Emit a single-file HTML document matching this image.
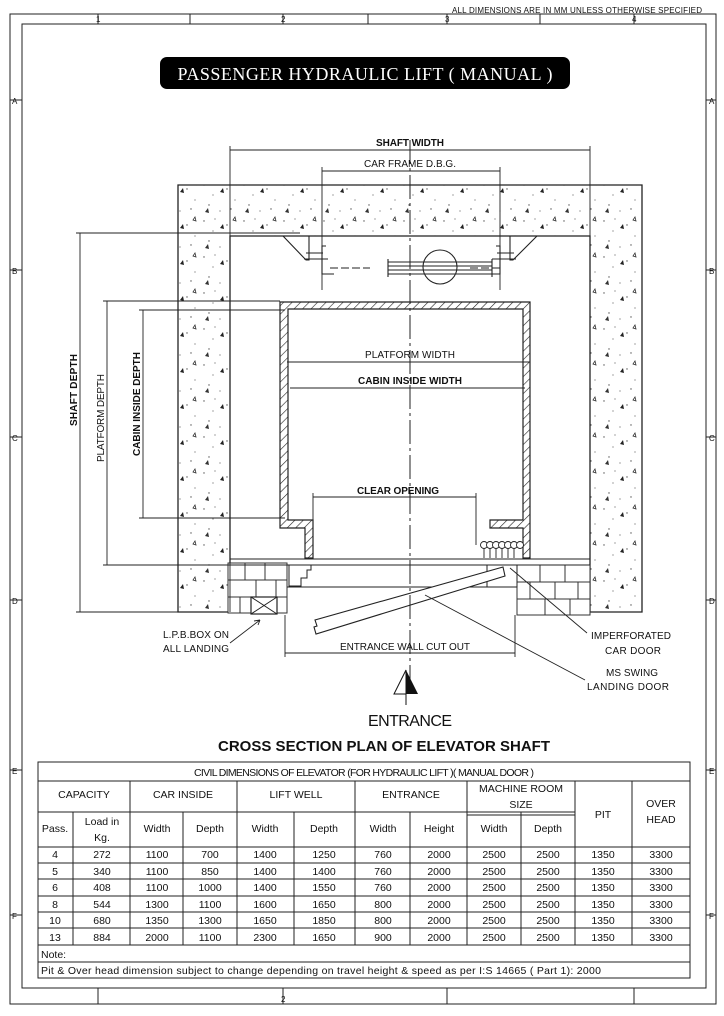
<!DOCTYPE html>
<html><head><meta charset="utf-8"><style>
html,body{margin:0;padding:0;background:#fff;}
svg{display:block;}
text{font-family:"Liberation Sans",sans-serif;fill:#111;}
</style></head><body>
<svg width="724" height="1016" viewBox="0 0 724 1016" xmlns="http://www.w3.org/2000/svg">
<defs>
<pattern id="conc" width="40" height="36" patternUnits="userSpaceOnUse">
<rect width="40" height="36" fill="#fff"/>
<circle cx="4" cy="5" r="0.7" fill="#555"/><circle cx="15" cy="3" r="0.6" fill="#666"/>
<circle cx="27" cy="9" r="0.7" fill="#555"/><circle cx="35" cy="20" r="0.6" fill="#666"/>
<circle cx="9" cy="25" r="0.7" fill="#555"/><circle cx="20" cy="31" r="0.6" fill="#666"/>
<circle cx="31" cy="29" r="0.7" fill="#555"/><circle cx="13" cy="15" r="0.6" fill="#666"/>
<path d="M20 12 l3 -4 l1 5z" fill="#222"/><path d="M5 32 l3 -4 l1 5z" fill="#333"/>
<path d="M33 4 l2 -3 l1 4z" fill="none" stroke="#333" stroke-width="0.8"/>
</pattern>
<pattern id="hatch" width="6" height="6" patternUnits="userSpaceOnUse" patternTransform="rotate(45)">
<rect width="6" height="6" fill="#fff"/><line x1="0" y1="0" x2="0" y2="6" stroke="#222" stroke-width="1.2"/>
</pattern>
</defs>
<g stroke="#222" fill="none" stroke-width="1">
<!-- borders -->
<rect x="10" y="14" width="706" height="990"/>
<rect x="22" y="24" width="684" height="964"/>
<path d="M98 14v10M190 14v10M283 14v10M368 14v10M447 14v10M540 14v10M634 14v10M98 988v16M283 988v16M447 988v16M634 988v16M10 100h12M10 270h12M10 437h12M10 600h12M10 770h12M10 915h12M706 100h10M706 270h10M706 437h10M706 600h10M706 770h10M706 915h10"/>
</g>
<g font-size="8">
<text x="96" y="22">1</text><text x="281" y="22">2</text><text x="445" y="22">3</text><text x="632" y="22">4</text>
<text x="12" y="104">A</text><text x="12" y="274">B</text><text x="12" y="441">C</text><text x="12" y="604">D</text><text x="12" y="774">E</text><text x="12" y="919">F</text>
<text x="709" y="104">A</text><text x="709" y="274">B</text><text x="709" y="441">C</text><text x="709" y="604">D</text><text x="709" y="774">E</text><text x="709" y="919">F</text>
<text x="281" y="1002">2</text>
</g>
<text x="452" y="13" font-size="8" textLength="250">ALL DIMENSIONS ARE IN  MM UNLESS OTHERWISE SPECIFIED</text>
<rect x="160" y="57" width="410" height="32" rx="7" fill="#000"/>
<text x="365" y="80" font-size="18" text-anchor="middle" style="font-family:'Liberation Serif',serif;fill:#fff" textLength="375">PASSENGER HYDRAULIC LIFT ( MANUAL )</text>

<!-- concrete walls -->
<path d="M178 185H642V612H590V236H230V612H178Z" fill="url(#conc)" stroke="#222" stroke-width="1.3"/>
<!-- bricks -->
<g stroke="#333" stroke-width="1" fill="#fff">
<rect x="228" y="563" width="59" height="50"/>
<path d="M228 580h59M228 597h59M245 563v17M265 563v17M256 580v17M276 580v17M240 597v16"/>
<rect x="517" y="565" width="73" height="50"/>
<path d="M517 582h73M517 599h73M540 565v17M565 565v17M530 582v17M555 582v17M578 582v17M545 599v16M570 599v16"/>
</g>
<rect x="251" y="597" width="26" height="17" fill="#fff" stroke="#222" stroke-width="1.2"/>
<path d="M251 597l26 17M277 597l-26 17" stroke="#222"/>

<!-- car walls hatched -->
<path d="M280 302H530V558H523V528H490V520H523V309H288V520H313V558H305V528H280Z" fill="url(#hatch)" stroke="#222" stroke-width="1.2"/>
<!-- car door panels -->
<g stroke="#222" fill="#fff" stroke-width="0.9">
<circle cx="484" cy="545" r="3.5"/><circle cx="490" cy="545" r="3.5"/><circle cx="496" cy="545" r="3.5"/><circle cx="502" cy="545" r="3.5"/><circle cx="508" cy="545" r="3.5"/><circle cx="514" cy="545" r="3.5"/><circle cx="520" cy="545" r="3.5"/>
<path d="M484 548v10M490 548v10M496 548v10M502 548v10M508 548v10M514 548v10"/>
</g>
<!-- sill -->
<path d="M230 559H590M230 565H590M287 587H515" stroke="#222" fill="none"/>
<path d="M289 565h22v5h-4v8h-6v8h-12z" fill="#fff" stroke="#222"/>
<path d="M487 565h30v22h-30z" fill="#fff" stroke="#222"/>
<!-- swing door -->
<path d="M503 567L315 620L317 626L314 627L316 634L505 576Z" fill="#fff" stroke="#222" stroke-width="1.1"/>

<!-- rail brackets top -->
<g stroke="#222" fill="none" stroke-width="1.1">
<path d="M283 236L306 260H309V236M537 236L513 260H510V236"/>
<path d="M326 246h-4v28h12M496 246h4v28h-12"/>
<path d="M306 253h17M514 253h-17"/>
<path d="M328 259h-24M492 259h24"/>
<circle cx="440" cy="267" r="17"/>
<path d="M388 262h104M388 266h104M388 270h104M388 274h104" stroke-width="1"/>
<path d="M388 259v18M492 259v18"/>
<path d="M330 268h40M470 268h30" stroke-dasharray="8 3"/>
</g>

<!-- center line -->
<path d="M410 140V690" stroke="#222" stroke-dasharray="24 4 3 4" fill="none"/>

<!-- dimension lines -->
<g stroke="#222" fill="none" stroke-width="0.9">
<path d="M230 150H590M230 146V612M590 146V236"/>
<path d="M322 171H500M322 167V290M500 167V290"/>
<path d="M287 362H530M290 388H525"/>
<path d="M313 497H476M313 493V520M476 493V545"/>
<path d="M285 653H515M285 615V657M515 615V657"/>
<path d="M80 233V612M76 233H300M107 301V565M103 301H280M143 310V518M139 310H285M139 518H285M103 565H230M76 612H178"/>
</g>
<g font-size="10">
<text x="410" y="146" text-anchor="middle" font-weight="bold" textLength="68">SHAFT WIDTH</text>
<text x="410" y="167" text-anchor="middle" textLength="92">CAR FRAME D.B.G.</text>
<text x="410" y="358" text-anchor="middle" textLength="90">PLATFORM WIDTH</text>
<text x="410" y="384" text-anchor="middle" font-weight="bold" textLength="104">CABIN INSIDE WIDTH</text>
<text x="398" y="494" text-anchor="middle" font-weight="bold" textLength="82">CLEAR OPENING</text>
<text x="405" y="650" text-anchor="middle" textLength="130">ENTRANCE WALL CUT OUT</text>
<text transform="translate(77,390) rotate(-90)" text-anchor="middle" font-weight="bold" textLength="72">SHAFT DEPTH</text>
<text transform="translate(104,418) rotate(-90)" text-anchor="middle" textLength="88">PLATFORM DEPTH</text>
<text transform="translate(140,404) rotate(-90)" text-anchor="middle" font-weight="bold" textLength="104">CABIN INSIDE DEPTH</text>
<text x="163" y="638" textLength="66">L.P.B.BOX ON</text>
<text x="163" y="652" textLength="66">ALL LANDING</text>
<text x="591" y="639" textLength="80">IMPERFORATED</text>
<text x="605" y="654" textLength="56">CAR DOOR</text>
<text x="606" y="676" textLength="52">MS SWING</text>
<text x="587" y="690" textLength="82">LANDING DOOR</text>
</g>
<g stroke="#222" fill="none" stroke-width="0.9">
<path d="M230 643L260 620M260 620l-6 1M260 620l-2 5"/>
<path d="M587 633L510 568"/>
<path d="M585 680L425 595"/>
</g>
<!-- entrance arrow -->
<path d="M406 670L394 694H406Z" fill="#fff" stroke="#111"/>
<path d="M406 670L418 694H406Z" fill="#111"/>
<path d="M406 694V705" stroke="#111"/>
<text x="410" y="726" font-size="16" text-anchor="middle" textLength="84">ENTRANCE</text>
<text x="384" y="751" font-size="15" font-weight="bold" text-anchor="middle" textLength="332">CROSS SECTION PLAN OF ELEVATOR SHAFT</text>

<!-- table -->
<g stroke="#222" fill="none" stroke-width="1">
<rect x="38" y="762" width="652" height="216"/>
<path d="M38 781H690M38 812H467M575 812H467M38 847H690M38 863H690M38 879H690M38 896H690M38 912H690M38 928H690M38 945H690M38 962H690"/>
<path d="M130 781V945M237 781V945M355 781V945M467 781V945M575 781V945M632 781V945"/>
<path d="M73 812V945M183 812V945M294 812V945M410 812V945M521 812V945"/>
<path d="M467 815H575"/>
</g>
<g font-size="10.5" text-anchor="middle">
<text x="364" y="776" textLength="340">CIVIL DIMENSIONS OF ELEVATOR (FOR HYDRAULIC LIFT )( MANUAL DOOR )</text>
<text x="84" y="798">CAPACITY</text><text x="183" y="798">CAR INSIDE</text><text x="296" y="798">LIFT WELL</text>
<text x="411" y="798">ENTRANCE</text><text x="521" y="792">MACHINE ROOM</text><text x="521" y="808">SIZE</text>
<text x="603" y="818">PIT</text><text x="661" y="807">OVER</text><text x="661" y="823">HEAD</text>
<text x="55" y="832">Pass.</text><text x="102" y="825">Load in</text><text x="102" y="841">Kg.</text>
<text x="157" y="832">Width</text><text x="210" y="832">Depth</text><text x="265" y="832">Width</text><text x="324" y="832">Depth</text>
<text x="383" y="832">Width</text><text x="439" y="832">Height</text><text x="494" y="832">Width</text><text x="548" y="832">Depth</text>
</g>
<g font-size="10.5" text-anchor="middle">
<g transform="translate(0,858)"><text x="55">4</text><text x="102">272</text><text x="157">1100</text><text x="210">700</text><text x="265">1400</text><text x="324">1250</text><text x="383">760</text><text x="439">2000</text><text x="494">2500</text><text x="548">2500</text><text x="603">1350</text><text x="661">3300</text></g>
<g transform="translate(0,875)"><text x="55">5</text><text x="102">340</text><text x="157">1100</text><text x="210">850</text><text x="265">1400</text><text x="324">1400</text><text x="383">760</text><text x="439">2000</text><text x="494">2500</text><text x="548">2500</text><text x="603">1350</text><text x="661">3300</text></g>
<g transform="translate(0,891)"><text x="55">6</text><text x="102">408</text><text x="157">1100</text><text x="210">1000</text><text x="265">1400</text><text x="324">1550</text><text x="383">760</text><text x="439">2000</text><text x="494">2500</text><text x="548">2500</text><text x="603">1350</text><text x="661">3300</text></g>
<g transform="translate(0,908)"><text x="55">8</text><text x="102">544</text><text x="157">1300</text><text x="210">1100</text><text x="265">1600</text><text x="324">1650</text><text x="383">800</text><text x="439">2000</text><text x="494">2500</text><text x="548">2500</text><text x="603">1350</text><text x="661">3300</text></g>
<g transform="translate(0,924)"><text x="55">10</text><text x="102">680</text><text x="157">1350</text><text x="210">1300</text><text x="265">1650</text><text x="324">1850</text><text x="383">800</text><text x="439">2000</text><text x="494">2500</text><text x="548">2500</text><text x="603">1350</text><text x="661">3300</text></g>
<g transform="translate(0,941)"><text x="55">13</text><text x="102">884</text><text x="157">2000</text><text x="210">1100</text><text x="265">2300</text><text x="324">1650</text><text x="383">900</text><text x="439">2000</text><text x="494">2500</text><text x="548">2500</text><text x="603">1350</text><text x="661">3300</text></g>
</g>
<text x="41" y="958" font-size="10.5">Note:</text>
<text x="41" y="974" font-size="10.5" textLength="560">Pit &amp; Over head dimension subject to change depending on travel height &amp; speed as per I:S 14665 ( Part 1): 2000</text>
</svg>
</body></html>
